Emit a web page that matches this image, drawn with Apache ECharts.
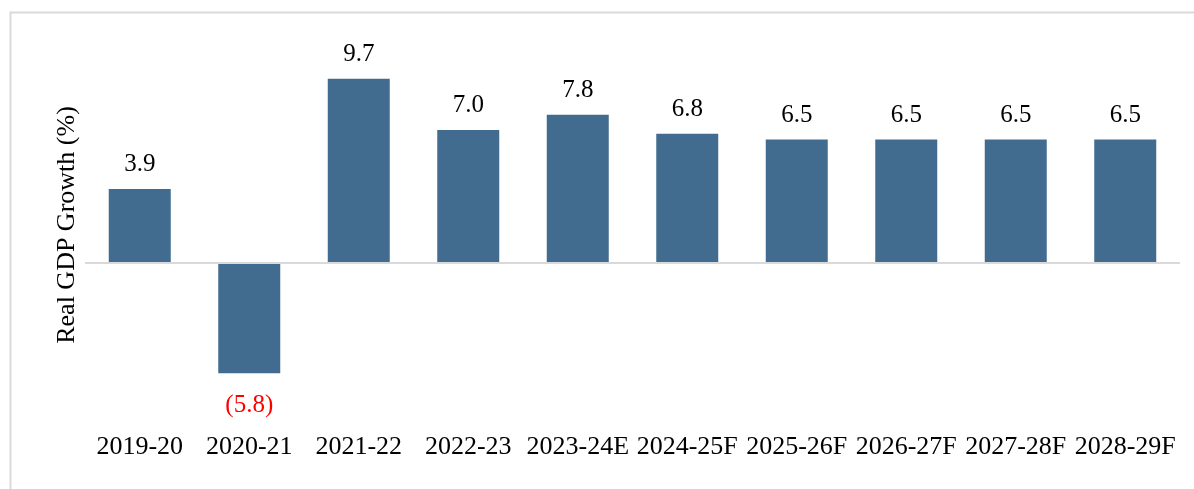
<!DOCTYPE html>
<html>
<head>
<meta charset="utf-8">
<script src="https://cdn.jsdelivr.net/npm/echarts@6/dist/echarts.min.js"></script>
<style>
html,body{margin:0;padding:0;background:#fff;}
#chart{width:1194px;height:489px;}
</style>
</head>
<body>
<div id="chart"></div>
<script>
const categories = ['2019-20','2020-21','2021-22','2022-23','2023-24E','2024-25F','2025-26F','2026-27F','2027-28F','2028-29F'];
const growth = [3.9, -5.8, 9.7, 7.0, 7.8, 6.8, 6.5, 6.5, 6.5, 6.5];
const yTitle = 'Real GDP Growth (%)';

const FONT = '"Liberation Serif", "Times New Roman", serif';
const chart = echarts.init(document.getElementById('chart'));

const data = growth.map(v => ({
  value: v,
  label: v < 0
    ? { position: 'bottom', distance: 20, color: '#ff0000' }
    : { position: 'top', distance: 12, color: '#000' }
}));

chart.setOption({
  animation: false,
  backgroundColor: '#fff',
  graphic: [{
    type: 'rect', left: 8, top: 10, silent: true,
    shape: { width: 1200, height: 500 },
    style: { fill: 'none', stroke: '#d9d9d9', lineWidth: 2 }
  }],
  grid: { left: 85, right: 14, top: 35, height: 380, containLabel: false },
  xAxis: {
    type: 'category',
    data: categories,
    axisLine: { show: false, onZero: false },
    axisTick: { show: false },
    axisLabel: { color: '#000', fontFamily: FONT, fontSize: 26, margin: 19, interval: 0 }
  },
  yAxis: {
    type: 'value', min: -8, max: 12, interval: 4,
    axisLabel: { show: false },
    axisLine: { show: false },
    axisTick: { show: false },
    splitLine: { show: false },
    name: yTitle,
    nameLocation: 'middle',
    nameGap: 5,
    nameTextStyle: { color: '#000', fontFamily: FONT, fontSize: 26 }
  },
  series: [{
    type: 'bar',
    data: data,
    barWidth: 62,
    itemStyle: { color: '#426C8F' },
    label: {
      show: true,
      fontFamily: FONT,
      fontSize: 25,
      formatter: p => p.value < 0 ? '(' + Math.abs(p.value).toFixed(1) + ')' : p.value.toFixed(1)
    },
    markLine: {
      silent: true,
      symbol: 'none',
      label: { show: false },
      lineStyle: { color: '#d9d9d9', width: 2, type: 'solid' },
      data: [{ yAxis: 0 }]
    }
  }]
});
</script>
</body>
</html>
